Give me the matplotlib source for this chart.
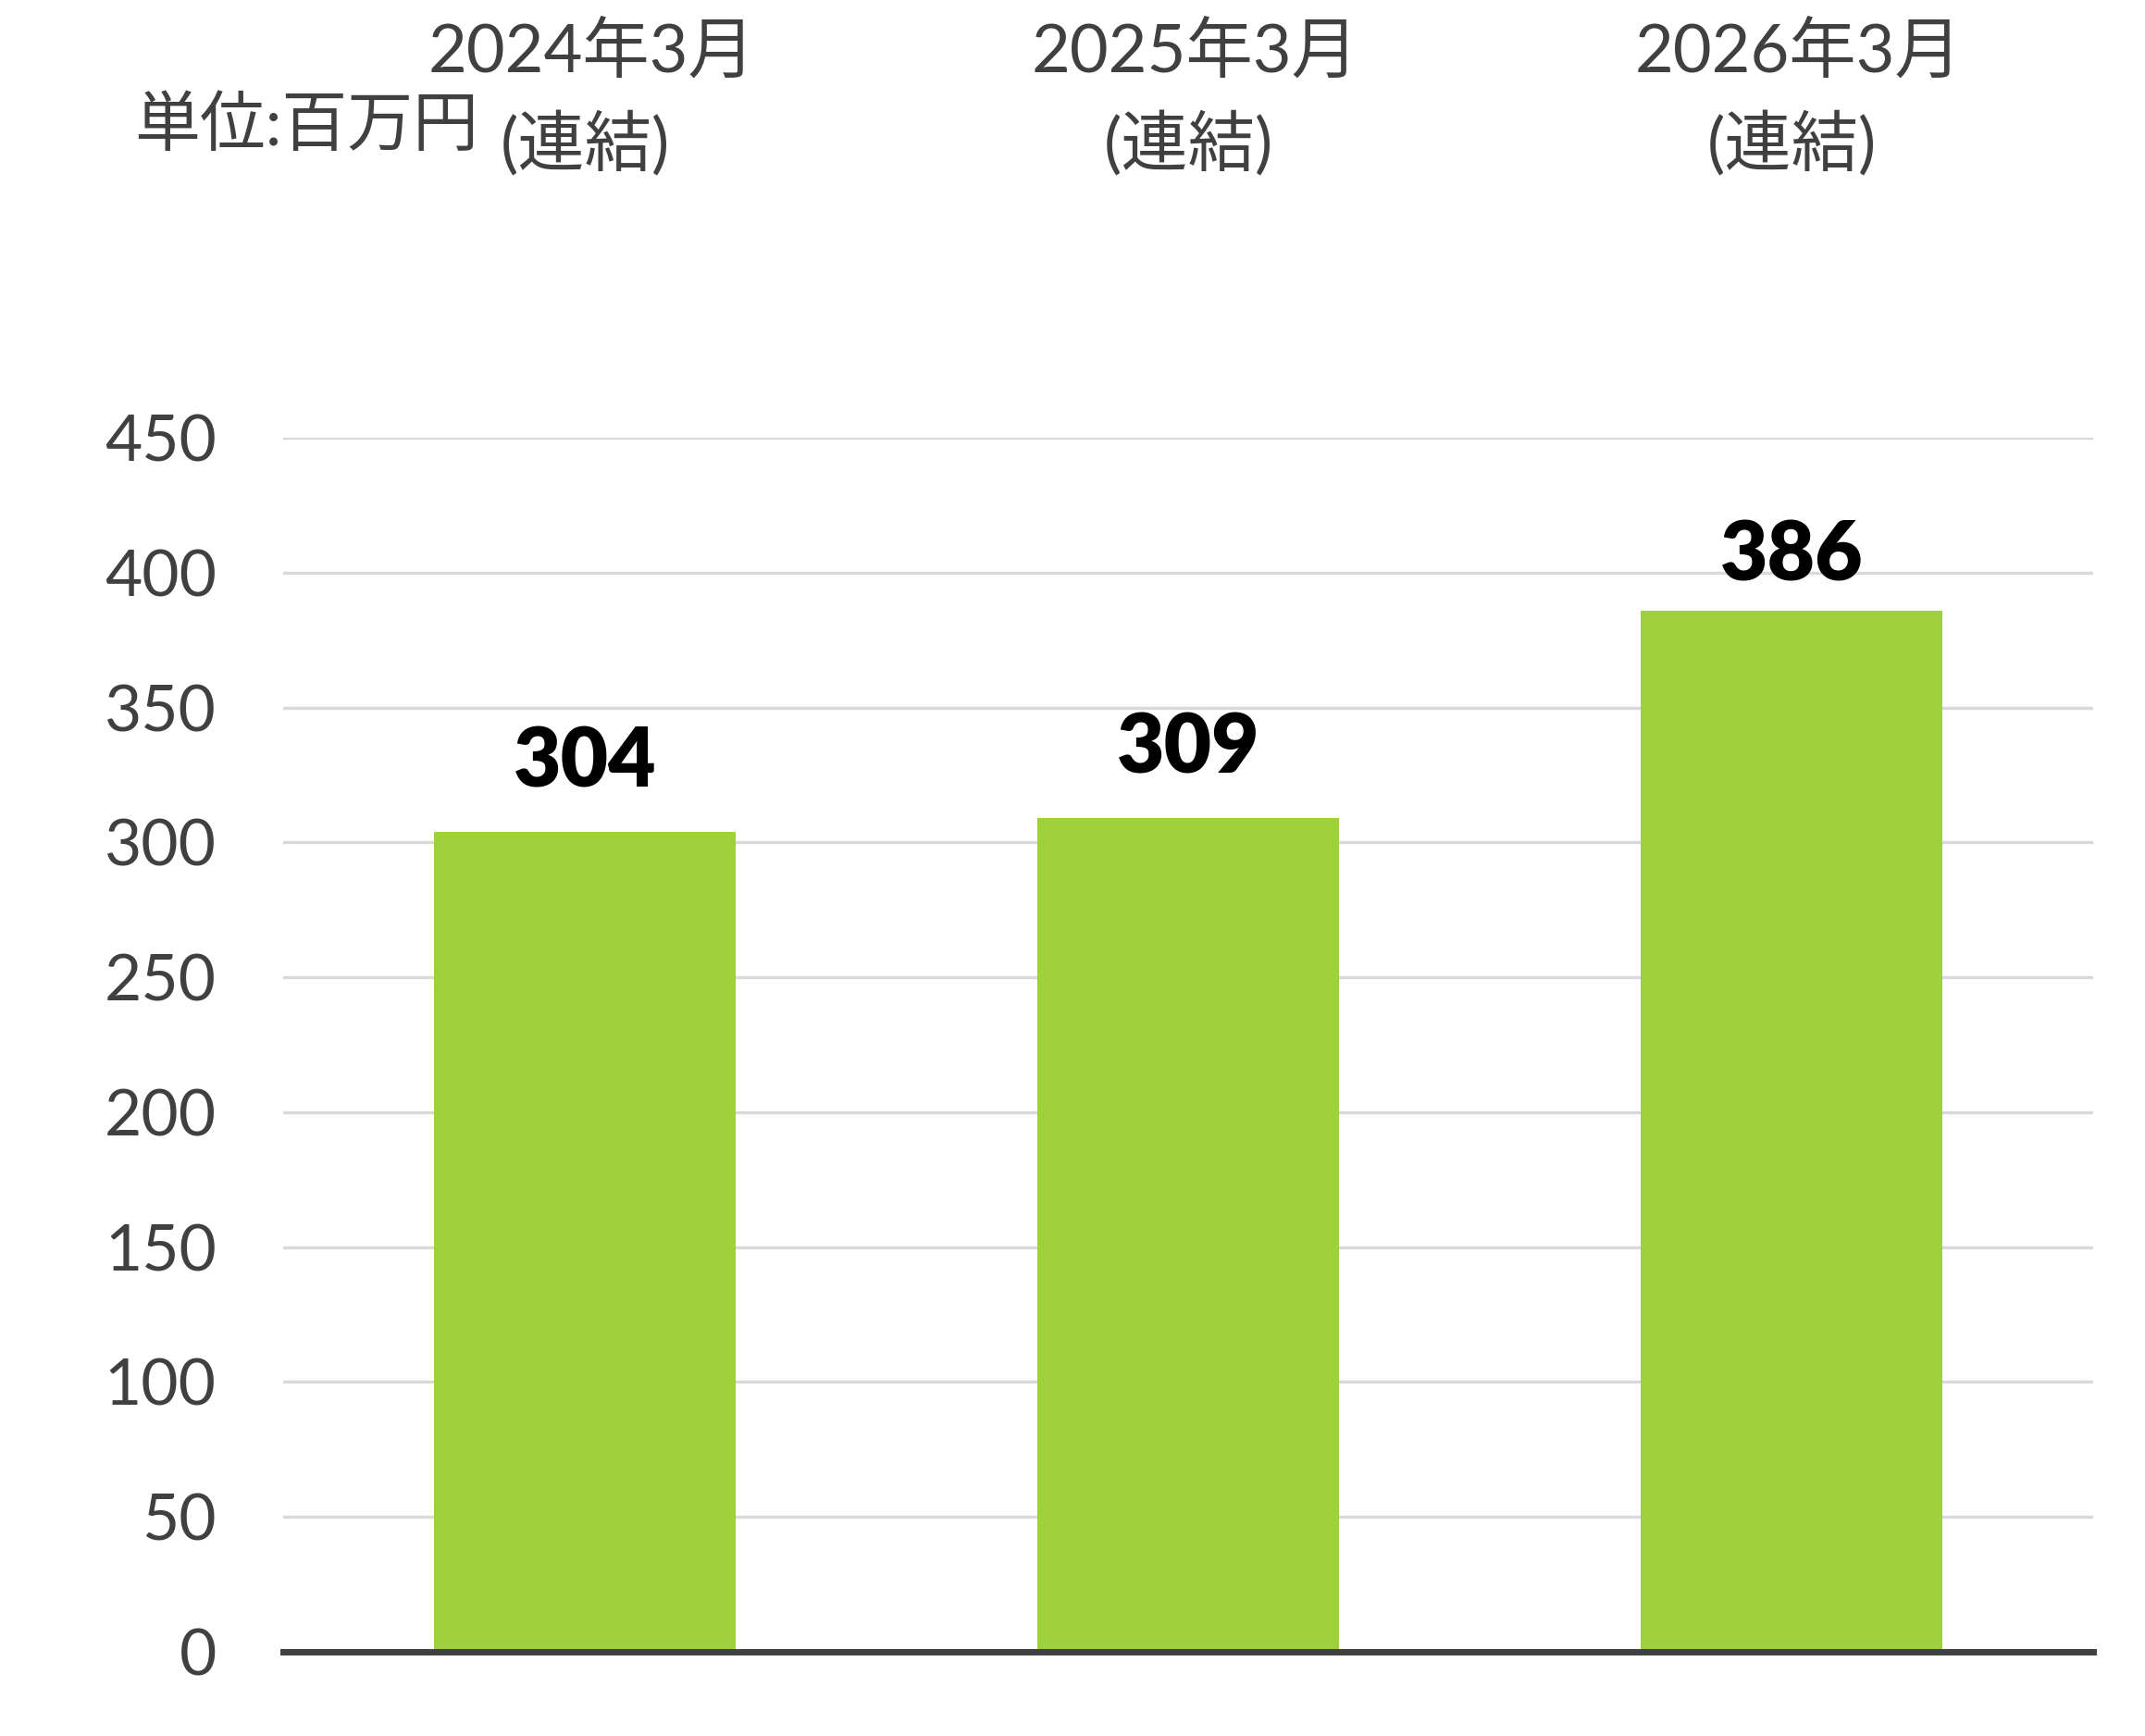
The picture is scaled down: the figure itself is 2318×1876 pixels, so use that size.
import numpy as np
import matplotlib
matplotlib.use("Agg")
import matplotlib.pyplot as plt
import matplotlib.transforms as mtransforms

plt.rcParams['font.family'] = ['Lato', 'Noto Sans CJK JP', 'DejaVu Sans']

# data
periods = ["2024年3月", "2025年3月", "2026年3月"]
period_notes = ["(連結)", "(連結)", "(連結)"]
values = [304, 309, 386]
y_ticks = [0, 50, 100, 150, 200, 250, 300, 350, 400, 450]
unit_label = "単位:百万円"

bar_color = "#9FD23A"
text_gray = "#404040"
grid_gray = "#D9D9D9"
# gap between bar top and its value label (points); the last one sits lower
label_gaps = [35, 35, 23]

fig = plt.figure(figsize=(23.18, 18.76), dpi=100)
ax = fig.add_axes([0.132, 0.0485, 0.8438, 0.6994])

x = np.arange(len(values))
bars = ax.bar(x, values, width=0.5, color=bar_color, zorder=2)

ax.set_xlim(-0.5, len(values) - 0.5)
ax.set_ylim(0, 450)
ax.set_yticks(y_ticks)
ax.set_xticks([])
ax.tick_params(axis='y', length=0, pad=52, labelsize=50, labelcolor=text_gray)

# horizontal grid, thick dark baseline
ax.grid(axis='y', color=grid_gray, linewidth=2.4, zorder=0)
for side in ["top", "right", "left"]:
    ax.spines[side].set_visible(False)
ax.spines["bottom"].set_color(text_gray)
ax.spines["bottom"].set_linewidth(5)
ax.spines["bottom"].set_zorder(3)

# value labels above the bars
for xi, v, gap in zip(x, values, label_gaps):
    ax.annotate(str(v), (xi, v), xytext=(0, gap), textcoords='offset points',
                ha='center', va='baseline', fontsize=64, fontweight='heavy',
                color='black')

# category labels sit above the plot area
trans = mtransforms.blended_transform_factory(ax.transData, fig.transFigure)
for xi, p, n in zip(x, periods, period_notes):
    ax.text(xi + 0.012, 0.9584, p, transform=trans, ha='center', va='baseline',
            fontsize=52, color=text_gray)
    ax.text(xi, 0.9046, n, transform=trans, ha='center', va='baseline',
            fontsize=52, color=text_gray)

fig.text(0.0626, 0.9163, unit_label, ha='left', va='baseline',
         fontsize=51, color=text_gray)

fig.savefig("out.png", dpi=100, facecolor="white")
